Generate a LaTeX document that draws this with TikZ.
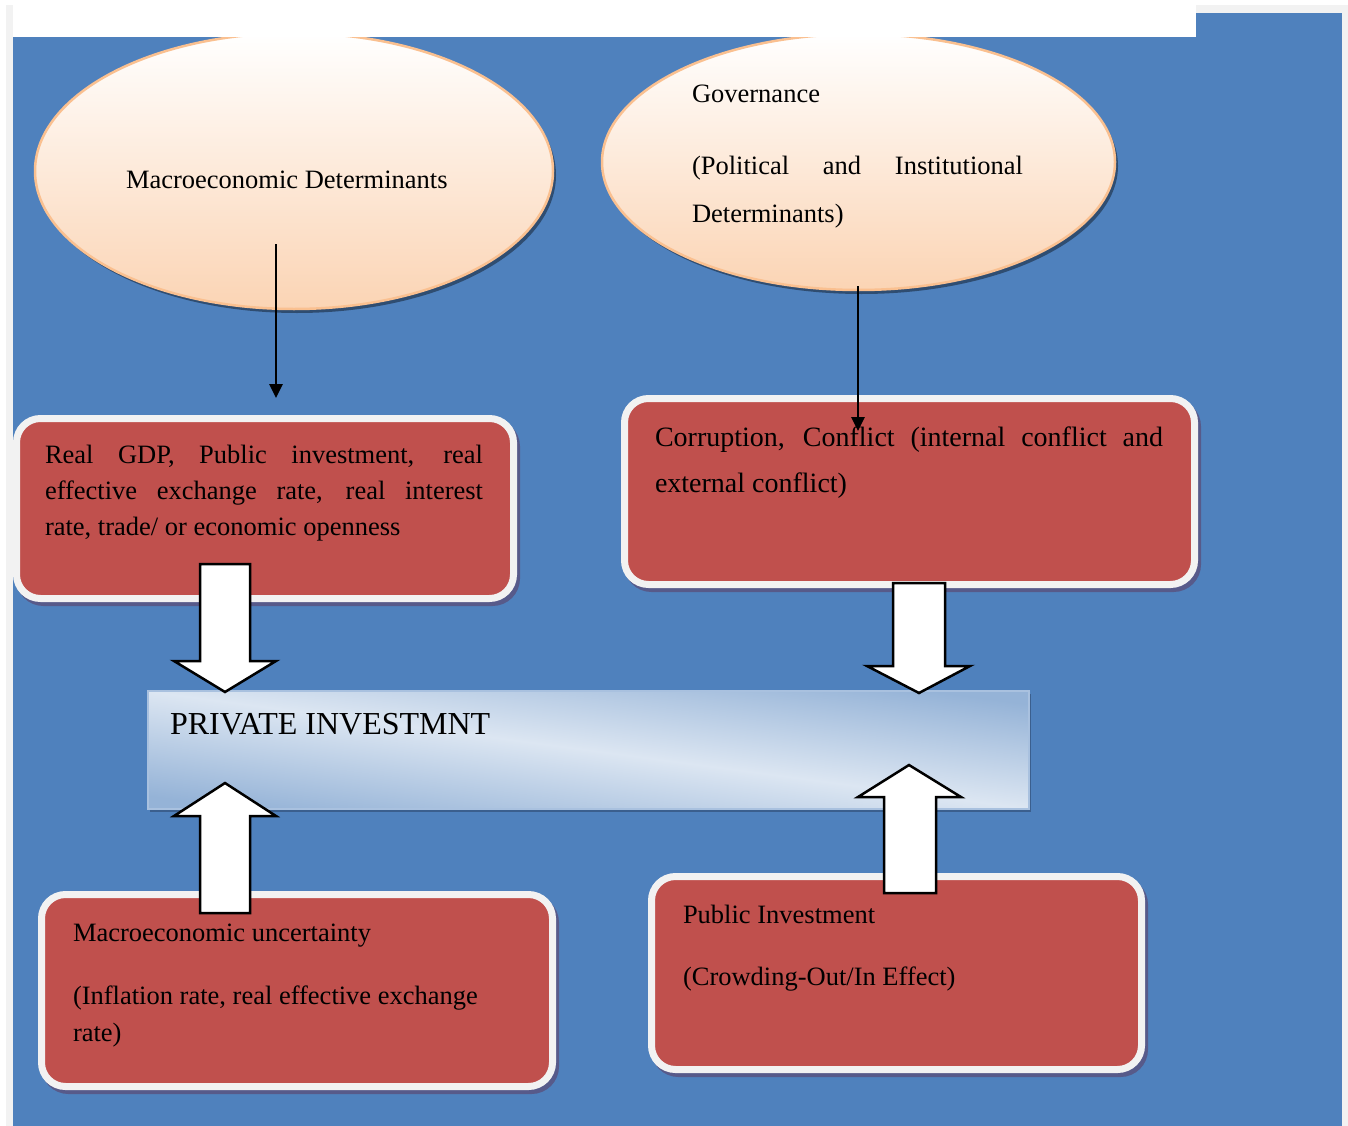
\documentclass[tikz,border=0pt]{standalone}
\usepackage{fontspec}
\setmainfont{Liberation Serif}
\usetikzlibrary{shapes.geometric,arrows.meta,shadows}
\definecolor{framegray}{HTML}{F2F2F2}
\definecolor{bgblue}{HTML}{4F81BD}
\definecolor{boxred}{HTML}{C0504D}
\definecolor{boxrim}{HTML}{F2F2F2}
\definecolor{boxshadow}{HTML}{575A8A}
\definecolor{peach}{HTML}{FBD4B4}
\definecolor{peachrim}{HTML}{FAC090}
\definecolor{pilight}{HTML}{DCE6F2}
\definecolor{pidark}{HTML}{95B3D7}
\definecolor{pirim}{HTML}{A9C1DF}
\definecolor{pishadow}{HTML}{3B5F8E}
\newcommand\bodyfont{\fontsize{26.5pt}{36pt}\selectfont}
\newcommand\cellfont{\fontsize{28pt}{46pt}\selectfont}
\newcommand\titlefont{\fontsize{32pt}{38pt}\selectfont}
\tikzset{
  ellipsebox/.style={ellipse, draw=peachrim, line width=2.5pt, top color=white, bottom color=peach,
    drop shadow={shadow xshift=3pt, shadow yshift=-4pt, fill=black, opacity=0.4}, inner sep=0pt},
  redbox/.style={rectangle, rounded corners=24pt, fill=boxred, draw=boxrim, line width=7pt,
    drop shadow={shadow xshift=3pt, shadow yshift=-4pt, fill=boxshadow, draw=boxshadow, line width=7pt, opacity=1}, inner sep=0pt},
  pibox/.style={rectangle, draw=pirim, line width=1.5pt, top color=pidark, bottom color=pidark, middle color=pilight, shading angle=-7.6,
    drop shadow={shadow xshift=2pt, shadow yshift=-3pt, fill=pishadow, opacity=1}, inner sep=0pt},
  blockarrow/.style={draw=black, fill=white, line width=2.5pt, line join=miter},
  thinarrow/.style={draw=black, line width=2.8pt, -{Triangle[length=14pt,width=13pt]}},
  txt/.style={anchor=base west, inner sep=0pt, outer sep=0pt, font=\bodyfont, text=black}
}
\begin{document}
\begin{tikzpicture}[x=1pt,y=-1pt]
\useasboundingbox (0,0) rectangle (1348,1126);
\fill[white] (0,0) rectangle (1348,1126);
\fill[framegray] (6,5) rectangle (1348,1126);
\fill[bgblue] (13,13) rectangle (1342,1126);

% ellipses
\node[ellipsebox, minimum width=518pt, minimum height=276pt] (e1) at (294,171) {};
\node[ellipsebox, minimum width=513pt, minimum height=256pt] (e2) at (858.5,162) {};

% white band at the top
\fill[white] (13,0) rectangle (1196,37);

% red boxes
\node[redbox, minimum width=497pt, minimum height=180pt] (b1) at (265,508.5) {};
\node[redbox, minimum width=570pt, minimum height=186pt] (b2) at (909.5,491.5) {};
\node[redbox, minimum width=511pt, minimum height=192pt] (b3) at (297,990.5) {};
\node[redbox, minimum width=490pt, minimum height=193pt] (b4) at (896.5,973) {};

% private investment box
\node[pibox, minimum width=881pt, minimum height=118pt] (pi) at (588.5,750) {};

% block arrows
\draw[blockarrow] (200,564) -- (250,564) -- (250,661) -- (276,661) -- (225,692) -- (174,661) -- (200,661) -- cycle;
\draw[blockarrow] (200,913) -- (250,913) -- (250,816) -- (276,816) -- (225,783) -- (174,816) -- (200,816) -- cycle;
\draw[blockarrow] (893,583) -- (945,583) -- (945,666) -- (970,666) -- (919,693) -- (867,666) -- (893,666) -- cycle;
\draw[blockarrow] (884,893) -- (936,893) -- (936,797) -- (961,797) -- (909,765) -- (858,797) -- (884,797) -- cycle;

% thin arrows
\coordinate (a1s) at (276,244);
\coordinate (a1e) at (276,398);
\coordinate (a2s) at (858,286);
\coordinate (a2e) at (858,431);
\draw[thinarrow] (a1s) -- (a1e);
\draw[thinarrow] (a2s) -- (a2e);

% texts
\node[txt] (t1) at (126,189) {Macroeconomic Determinants};
\node[txt] (t2a) at (692,103) {Governance};
\node[txt] (t2b) at (692,175) {\makebox[331pt][s]{(Political and Institutional}};
\node[txt] (t2c) at (692,222) {Determinants)};

\node[txt] (t3a) at (45,463) {\makebox[438pt][s]{Real GDP, Public investment, real}};
\node[txt] (t3b) at (45,499) {\makebox[438pt][s]{effective exchange rate, real interest}};
\node[txt] (t3c) at (45,535) {rate, trade/ or economic openness};

\node[txt, font=\cellfont] (t4a) at (655,446) {\makebox[508pt][s]{Corruption, Conflict (internal conflict and}};
\node[txt, font=\cellfont] (t4b) at (655,492) {external conflict)};

\node[txt, font=\titlefont] (t5) at (170,734) {PRIVATE INVESTMNT};

\node[txt] (t6a) at (73,941) {Macroeconomic uncertainty};
\node[txt] (t6b) at (73,1004) {(Inflation rate, real effective exchange};
\node[txt] (t6c) at (73,1041) {rate)};

\node[txt] (t7a) at (683,923) {Public Investment};
\node[txt] (t7b) at (683,985) {(Crowding-Out/In Effect)};
\end{tikzpicture}
\end{document}
